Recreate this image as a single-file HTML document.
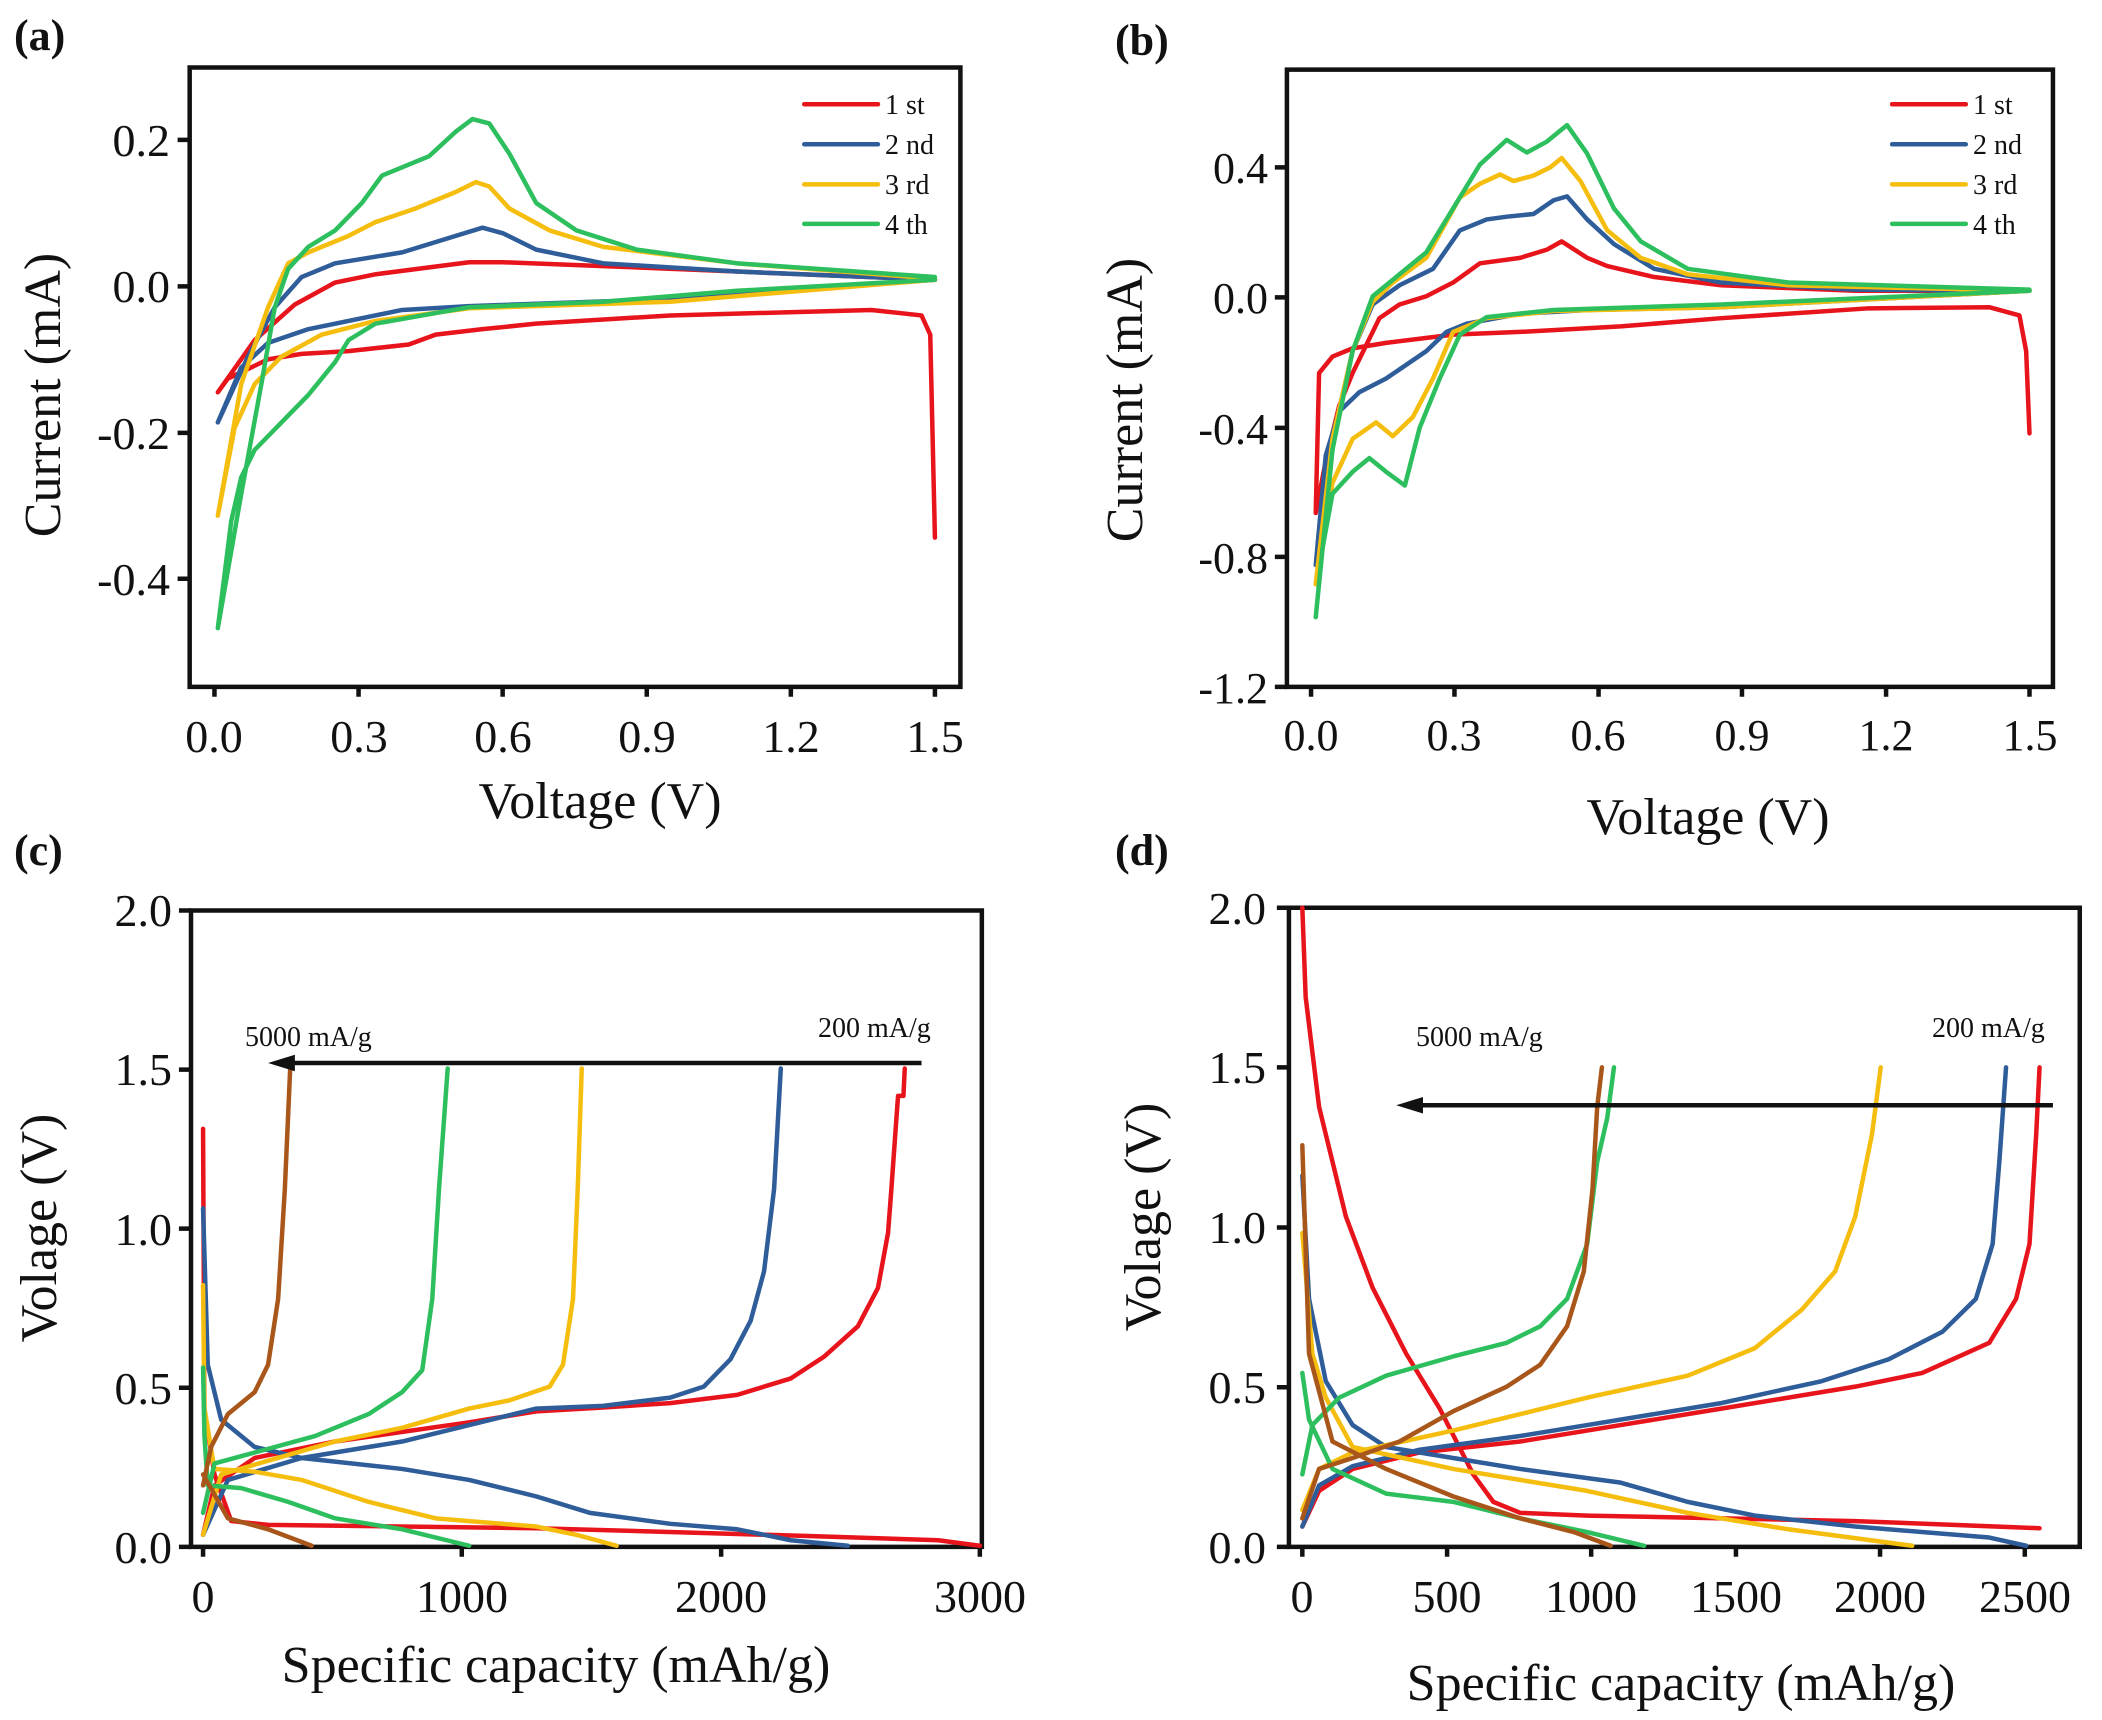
<!DOCTYPE html>
<html><head><meta charset="utf-8"><style>
html,body{margin:0;padding:0;background:#fff;}
svg{display:block;}
text{font-family:"Liberation Serif",serif;fill:#111;}
.tk{font-size:46px;}
.tks{font-family:"Liberation Sans",sans-serif;font-size:44px;}
.al{font-size:52px;}
.lg{font-size:28px;}
.pl{font-size:44px;font-weight:bold;}
.c{fill:none;stroke-width:4.5;stroke-linejoin:round;stroke-linecap:round;vector-effect:non-scaling-stroke;}
.f{fill:none;stroke:#111;stroke-width:4.5;vector-effect:non-scaling-stroke;}
.r{stroke:#e8141c}.b{stroke:#2e5d9a}.y{stroke:#f5bd0e}.g{stroke:#2dbf5e}.n{stroke:#a8561a}
</style></head><body>
<svg width="2102" height="1720" viewBox="0 0 2102 1720" xmlns="http://www.w3.org/2000/svg">
<!-- Panel a -->
<g transform="translate(0,0) scale(0.6702,0.5486)">
<rect class="f" x="283" y="123" width="1150" height="1129"/>
<path class="f" d="M283 255h-18M283 522h-18M283 789h-18M283 1055h-18M320 1252v18M535 1252v18M750 1252v18M965 1252v18M1180 1252v18M1395 1252v18"/>
<polyline class="c r" points="1395,980 1388,610 1375,575 1300,565 1000,575 800,590 720,600 650,610 610,628 520,640 450,645 400,655 340,690 325,715 380,620 440,555 500,515 560,500 700,478 750,478 900,485 1100,495 1395,510"/>
<polyline class="c b" points="1395,510 1000,545 700,558 600,565 520,585 460,600 400,625 360,670 325,770 370,650 410,560 450,505 500,480 600,460 680,430 720,415 750,425 800,455 900,480 1100,495 1395,510"/>
<polyline class="c y" points="1395,510 1000,550 700,562 560,585 480,610 420,650 380,700 350,780 325,940 360,700 400,560 430,480 460,460 520,430 560,405 620,380 680,350 710,332 730,340 760,380 820,420 900,450 1100,480 1395,508"/>
<polyline class="c g" points="1395,510 1100,530 900,550 700,560 560,590 520,620 500,660 460,720 420,770 380,820 360,870 345,950 325,1145 360,900 390,700 410,560 430,490 460,450 500,420 540,370 570,320 610,300 640,285 680,240 705,217 730,225 760,280 800,370 860,420 950,455 1100,480 1395,505"/>
<path class="c r" d="M1200 190H1310"/><path class="c b" d="M1200 263H1310"/><path class="c y" d="M1200 336H1310"/><path class="c g" d="M1200 408H1310"/>
</g>
<text class="pl" x="14" y="50">(a)</text>
<g class="lg"><text x="885" y="114">1 st</text><text x="885" y="154">2 nd</text><text x="885" y="194">3 rd</text><text x="885" y="234">4 th</text></g>
<g class="tk" text-anchor="end"><text x="170" y="156">0.2</text><text x="170" y="302">0.0</text><text x="170" y="449">-0.2</text><text x="170" y="595">-0.4</text></g>
<g class="tk" text-anchor="middle"><text x="214" y="752">0.0</text><text x="359" y="752">0.3</text><text x="503" y="752">0.6</text><text x="647" y="752">0.9</text><text x="791" y="752">1.2</text><text x="935" y="752">1.5</text></g>
<text class="al" x="600" y="818" text-anchor="middle">Voltage (V)</text>
<text class="al" transform="translate(60,395) rotate(-90)" text-anchor="middle">Current (mA)</text>

<!-- Panel b -->
<g transform="translate(1051,0) scale(0.6702,0.5486)">
<rect class="f" x="352" y="127" width="1143" height="1125"/>
<path class="f" d="M352 305h-18M352 542h-18M352 780h-18M352 1015h-18M352 1252h-18M388 1252v18M602 1252v18M817 1252v18M1031 1252v18M1246 1252v18M1460 1252v18"/>
<polyline class="c r" points="1460,790 1455,640 1445,575 1400,560 1220,562 1000,580 850,595 700,605 600,610 500,625 450,635 420,650 400,680 395,935 410,840 430,740 450,680 470,630 490,580 520,555 560,540 600,515 640,480 700,470 740,455 762,440 800,470 830,485 900,505 1000,520 1200,530 1460,530"/>
<polyline class="c b" points="1460,530 1000,560 800,565 700,572 620,590 590,605 560,640 500,690 460,715 430,750 410,830 395,1030 420,800 450,640 480,555 520,520 570,490 610,420 650,400 680,395 720,390 750,365 770,358 800,400 840,445 900,490 1000,515 1200,528 1460,530"/>
<polyline class="c y" points="1460,530 1000,560 750,567 650,580 600,605 570,690 540,760 510,795 485,770 450,800 420,880 395,1065 420,800 450,640 480,550 510,515 560,470 610,360 640,335 670,318 690,330 720,320 745,305 762,288 790,330 830,420 880,470 950,500 1100,520 1460,530"/>
<polyline class="c g" points="1460,530 1000,555 750,565 650,578 610,610 580,690 550,780 528,885 500,860 475,835 450,860 420,900 405,1000 395,1125 420,820 450,640 480,540 520,500 560,460 600,380 640,300 680,255 710,278 740,258 770,228 800,280 840,380 880,440 950,490 1100,515 1460,528"/>
<path class="c r" d="M1255 190H1365"/><path class="c b" d="M1255 263H1365"/><path class="c y" d="M1255 336H1365"/><path class="c g" d="M1255 408H1365"/>
</g>
<text class="pl" x="1115" y="55">(b)</text>
<g class="lg"><text x="1973" y="114">1 st</text><text x="1973" y="154">2 nd</text><text x="1973" y="194">3 rd</text><text x="1973" y="234">4 th</text></g>
<g class="tks" text-anchor="end"><text x="1268" y="183">0.4</text><text x="1268" y="313">0.0</text><text x="1268" y="444">-0.4</text><text x="1268" y="573">-0.8</text><text x="1268" y="703">-1.2</text></g>
<g class="tks" text-anchor="middle"><text x="1311" y="750">0.0</text><text x="1454" y="750">0.3</text><text x="1598" y="750">0.6</text><text x="1742" y="750">0.9</text><text x="1886" y="750">1.2</text><text x="2030" y="750">1.5</text></g>
<text class="al" x="1708" y="834" text-anchor="middle">Voltage (V)</text>
<text class="al" transform="translate(1142,400) rotate(-90)" text-anchor="middle">Current (mA)</text>

<!-- Panel c -->
<g transform="translate(0,860) scale(0.6702,0.5486)">
<rect class="f" x="285" y="92" width="1180" height="1160"/>
<path class="f" d="M285 92h-18M285 382h-18M285 672h-18M285 962h-18M285 1252h-18M303 1252v18M689 1252v18M1076 1252v18M1462 1252v18"/>
<polyline class="c r" points="303,490 305,1000 320,1120 345,1205 400,1212 800,1218 1200,1232 1400,1240 1462,1250"/>
<polyline class="c r" points="303,1230 320,1140 380,1090 500,1060 700,1025 800,1005 900,998 1000,990 1100,975 1180,945 1230,905 1280,850 1310,780 1325,680 1330,600 1337,480 1340,430 1348,430 1350,380"/>
<polyline class="c b" points="303,635 310,920 330,1020 380,1070 450,1090 600,1110 700,1130 800,1160 880,1190 1000,1210 1100,1220 1180,1240 1265,1250"/>
<polyline class="c b" points="303,1230 340,1130 450,1090 600,1060 700,1030 800,1000 900,995 1000,980 1050,960 1090,910 1120,840 1140,750 1155,600 1165,380"/>
<polyline class="c y" points="303,775 305,1000 320,1110 380,1115 450,1130 550,1170 650,1200 800,1215 860,1230 920,1250"/>
<polyline class="c y" points="303,1230 330,1120 400,1095 500,1060 600,1035 700,1000 760,985 820,960 840,920 855,800 862,600 868,380"/>
<polyline class="c g" points="303,925 305,1050 310,1140 360,1145 430,1170 500,1200 600,1220 700,1250"/>
<polyline class="c g" points="303,1190 320,1100 380,1080 470,1050 550,1010 600,970 630,930 645,800 655,600 668,380"/>
<polyline class="c n" points="303,1120 340,1200 400,1220 465,1250"/>
<polyline class="c n" points="303,1140 315,1070 340,1010 380,970 400,920 415,800 425,600 433,380"/>
<path class="f" d="M1375 370H430"/><polygon points="400,370 440,355 440,385" fill="#111"/>
</g>
<text class="pl" x="14" y="865">(c)</text>
<text class="lg" x="245" y="1046">5000 mA/g</text>
<text class="lg" x="818" y="1037">200 mA/g</text>
<g class="tk" text-anchor="end"><text x="172" y="926">2.0</text><text x="172" y="1085">1.5</text><text x="172" y="1245">1.0</text><text x="172" y="1404">0.5</text><text x="172" y="1563">0.0</text></g>
<g class="tk" text-anchor="middle"><text x="203" y="1612">0</text><text x="462" y="1612">1000</text><text x="721" y="1612">2000</text><text x="980" y="1612">3000</text></g>
<text class="al" x="556" y="1682" text-anchor="middle">Specific capacity (mAh/g)</text>
<text class="al" transform="translate(56,1228) rotate(-90)" text-anchor="middle">Volage (V)</text>

<!-- Panel d -->
<g transform="translate(1051,860) scale(0.6702,0.5486)">
<rect class="f" x="355" y="87" width="1180" height="1165"/>
<path class="f" d="M355 87h-18M355 378h-18M355 670h-18M355 961h-18M355 1252h-18M375 1252v18M591 1252v18M806 1252v18M1022 1252v18M1237 1252v18M1453 1252v18"/>
<polyline class="c r" points="375,87 380,250 400,450 440,650 480,780 530,900 580,1000 630,1120 660,1170 700,1190 800,1195 1200,1205 1475,1218"/>
<polyline class="c r" points="375,1215 400,1150 450,1110 550,1080 700,1060 850,1030 1000,1000 1200,960 1300,935 1400,880 1440,800 1460,700 1470,500 1475,378"/>
<polyline class="c b" points="375,575 385,800 410,950 450,1030 500,1070 600,1090 700,1110 850,1135 950,1170 1050,1195 1200,1215 1400,1235 1455,1250"/>
<polyline class="c b" points="375,1215 400,1140 450,1105 550,1075 700,1050 800,1030 1000,990 1150,950 1250,910 1330,860 1380,800 1405,700 1415,550 1425,378"/>
<polyline class="c y" points="375,680 390,900 410,980 450,1070 600,1110 800,1150 950,1190 1100,1220 1285,1250"/>
<polyline class="c y" points="375,1185 400,1110 450,1080 600,1040 800,980 950,940 1050,890 1120,820 1170,750 1200,650 1225,500 1238,378"/>
<polyline class="c g" points="375,935 385,1020 420,1110 500,1155 600,1170 700,1200 800,1225 885,1250"/>
<polyline class="c g" points="375,1120 390,1030 430,980 500,940 600,905 680,880 730,850 770,800 800,700 815,550 830,470 840,378"/>
<polyline class="c n" points="375,520 385,900 420,1060 500,1110 600,1160 700,1200 780,1225 835,1250"/>
<polyline class="c n" points="375,1200 400,1110 450,1090 520,1060 600,1005 680,960 730,920 770,850 795,750 808,600 815,450 822,378"/>
<path class="f" d="M1495 447H545"/><polygon points="515,447 555,432 555,462" fill="#111"/>
</g>
<text class="pl" x="1115" y="865">(d)</text>
<text class="lg" x="1416" y="1046">5000 mA/g</text>
<text class="lg" x="1932" y="1037">200 mA/g</text>
<g class="tk" text-anchor="end"><text x="1266" y="924">2.0</text><text x="1266" y="1083">1.5</text><text x="1266" y="1243">1.0</text><text x="1266" y="1403">0.5</text><text x="1266" y="1563">0.0</text></g>
<g class="tk" text-anchor="middle"><text x="1302" y="1612">0</text><text x="1447" y="1612">500</text><text x="1591" y="1612">1000</text><text x="1736" y="1612">1500</text><text x="1880" y="1612">2000</text><text x="2025" y="1612">2500</text></g>
<text class="al" x="1681" y="1700" text-anchor="middle">Specific capacity (mAh/g)</text>
<text class="al" transform="translate(1160,1217) rotate(-90)" text-anchor="middle">Volage (V)</text>
</svg>
</body></html>
